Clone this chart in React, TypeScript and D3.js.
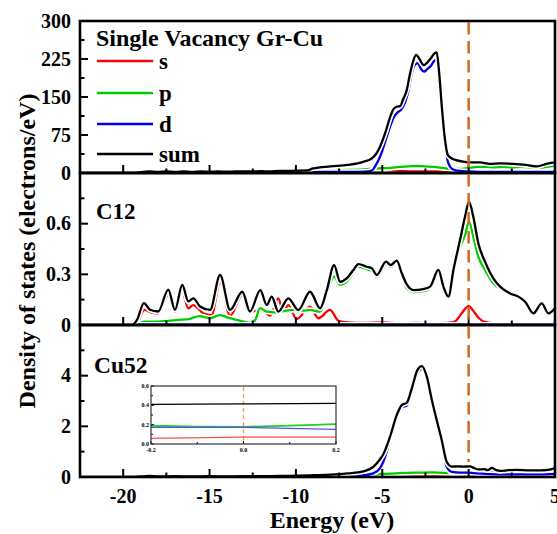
import React from "react";
import * as d3 from "d3";

type Pt = [number, number];

// Energy window (eV)
const energyDomain: [number, number] = [-22.5, 5];
const xMajorTicks = [-20, -15, -10, -5, 0, 5];
const xMinorTicks = [-22.5, -17.5, -12.5, -7.5, -2.5, 2.5];

// Panel 1: Single Vacancy Gr-Cu (total system)
const topTicks = [0, 75, 150, 225, 300];
const topS: Pt[] = [[-22.5,0],[-9.5,0],[-9,1],[-7,2],[-6,3],[-5.5,5],[-5,7],[-4.5,5],[-4,4],[-3,3],[-2,3],[-1,2.5],[0,2],[1,1.5],[2,1.5],[3,1.5],[4,1.5],[5,1.5]];
const topP: Pt[] = [[-22.5,0],[-10,0],[-9.5,1],[-9,3],[-8,5],[-7,6],[-6,7],[-5.3,9],[-4.5,10],[-4,12],[-3.5,13],[-3,14],[-2.5,13],[-2,12],[-1.5,10],[-1,8],[-0.5,8],[0,10],[0.5,12],[1,12],[1.5,11],[2,12],[2.5,11],[3,12],[3.5,11],[4,10],[4.5,12],[5,14]];
const topD: Pt[] = [[-22.5,0],[-19.5,0],[-19,1.5],[-18.5,3],[-18,1.5],[-17.5,3],[-17,1.5],[-16.5,2.5],[-16,1.5],[-15.5,2.5],[-15,2],[-14.5,2.5],[-14,2],[-13.5,2],[-13,2.5],[-12.5,2],[-12,2.5],[-11.5,2],[-11,2.5],[-10,2],[-9,2],[-8,2],[-7,2],[-6,2.5],[-5.6,5],[-5.4,14],[-5.13,32],[-4.8,65],[-4.55,91],[-4.3,112],[-4.1,120],[-3.9,125],[-3.7,138],[-3.5,160],[-3.3,196],[-3.1,214],[-2.95,217],[-2.75,205],[-2.58,200],[-2.4,205],[-2.2,211],[-1.95,222],[-1.85,222],[-1.7,175],[-1.55,115],[-1.45,79],[-1.3,40],[-1.17,19],[-0.9,7],[-0.5,4],[0,3],[1,2],[2,2],[3,2],[4,2],[5,2]];
const topSum: Pt[] = [[-22.5,0],[-19.5,0],[-19,1.5],[-18.5,3],[-18,2],[-17.5,3],[-17,2],[-16.5,3],[-16,2],[-15.5,3],[-15,2.5],[-14.5,3],[-14,2.5],[-13.5,3],[-13,3],[-12.5,3],[-12,3.5],[-11.5,3],[-11,4],[-10.5,4],[-10,4.5],[-9.35,5],[-9,9],[-8,13],[-7,16],[-6.1,22],[-5.6,29],[-5.35,38],[-5.13,52],[-4.8,82],[-4.55,110],[-4.35,126],[-4.15,131],[-3.97,132],[-3.8,145],[-3.58,164],[-3.4,195],[-3.2,222],[-3.04,233],[-2.85,225],[-2.6,213],[-2.4,218],[-2.2,226],[-1.95,237],[-1.85,238],[-1.7,195],[-1.55,130],[-1.4,75],[-1.2,35],[-0.88,27],[-0.4,23],[0,21],[0.66,21],[1.23,18],[1.8,19],[2.57,18],[3.3,16],[3.96,13],[4.5,18],[5,21]];

// Panel 2: C12
const midTicks = [0, 0.3, 0.6];
const midS: Pt[] = [[-22.5,0],[-19.3,0],[-18.77,0.089],[-18.4,0.075],[-17.97,0.069],[-17.39,0.178],[-17.0,0.079],[-16.6,0.207],[-16.23,0.099],[-15.94,0.118],[-15.36,0.069],[-14.88,0.059],[-14.39,0.256],[-13.81,0.055],[-13.1,0.178],[-12.76,0.079],[-12.27,0.085],[-11.95,0.09],[-11.5,0.055],[-11.02,0.158],[-10.73,0.079],[-10.44,0.118],[-9.96,0.035],[-9.18,0.108],[-8.7,0.04],[-8.02,0.089],[-7.54,0.025],[-7,0.015],[-6,0.012],[-5,0.015],[-4,0.01],[-3,0.012],[-2,0.01],[-1.2,0.012],[-0.8,0.02],[-0.4,0.07],[0,0.112],[0.3,0.08],[0.6,0.04],[0.95,0.018],[1.5,0.01],[2.5,0.008],[3.5,0.006],[5,0.005]];
const midP: Pt[] = [[-22.5,0],[-19.2,0],[-18.8,0.02],[-18,0.02],[-17.4,0.025],[-16.8,0.03],[-16.2,0.035],[-15.6,0.053],[-14.97,0.04],[-14.4,0.059],[-13.97,0.045],[-13.2,0.024],[-12.6,0.012],[-12.35,0.03],[-12.08,0.1],[-11.69,0.079],[-11.2,0.075],[-10.9,0.079],[-10.15,0.089],[-9.6,0.085],[-9.18,0.089],[-8.6,0.079],[-8.21,0.187],[-7.79,0.286],[-7.44,0.237],[-7.06,0.256],[-6.67,0.31],[-6.38,0.345],[-5.9,0.33],[-5.61,0.32],[-5.32,0.286],[-4.74,0.361],[-4.51,0.345],[-4.16,0.365],[-3.87,0.29],[-3.58,0.217],[-3.2,0.195],[-2.62,0.2],[-2.23,0.215],[-1.75,0.315],[-1.46,0.215],[-1.17,0.158],[-0.88,0.31],[-0.5,0.46],[-0.21,0.533],[0.02,0.612],[0.27,0.523],[0.56,0.405],[0.95,0.326],[1.43,0.247],[1.82,0.215],[2.4,0.18],[2.88,0.16],[3.27,0.13],[3.75,0.062],[4.23,0.12],[4.62,0.062],[5,0.092]];
const midD: Pt[] = [[-22.5,0],[-19,0.002],[-10,0.002],[0,0.002],[5,0.002]];
const midSum: Pt[] = [[-22.5,0],[-19.5,0],[-19.2,0.03],[-18.8,0.13],[-18.45,0.09],[-17.97,0.08],[-17.39,0.21],[-17.0,0.09],[-16.58,0.237],[-16.23,0.14],[-15.94,0.158],[-15.55,0.11],[-14.97,0.09],[-14.39,0.296],[-13.81,0.09],[-13.1,0.197],[-12.66,0.08],[-12.06,0.207],[-11.69,0.118],[-11.4,0.168],[-11.02,0.079],[-10.44,0.158],[-9.86,0.089],[-9.18,0.197],[-8.6,0.099],[-8.21,0.207],[-7.79,0.355],[-7.44,0.256],[-7.06,0.276],[-6.67,0.326],[-6.38,0.361],[-5.9,0.345],[-5.61,0.336],[-5.32,0.296],[-4.78,0.375],[-4.51,0.355],[-4.16,0.381],[-3.87,0.306],[-3.58,0.24],[-3.2,0.207],[-2.62,0.213],[-2.23,0.227],[-1.75,0.326],[-1.46,0.227],[-1.17,0.168],[-0.88,0.326],[-0.5,0.503],[-0.21,0.641],[0.02,0.73],[0.27,0.641],[0.56,0.484],[0.95,0.375],[1.43,0.276],[1.82,0.227],[2.4,0.187],[2.88,0.168],[3.27,0.138],[3.75,0.069],[4.23,0.128],[4.62,0.069],[5,0.099]];

// Panel 3: Cu52
const botTicks = [0, 2, 4];
const botS: Pt[] = [[-22.5,0],[-9,0],[-8,0.02],[-6,0.04],[-5,0.06],[-4,0.07],[-3,0.06],[-2,0.05],[-1,0.05],[0,0.07],[1,0.06],[2,0.05],[3,0.05],[5,0.05]];
const botP: Pt[] = [[-22.5,0],[-8,0],[-6,0.05],[-5,0.12],[-4,0.15],[-3,0.17],[-2,0.18],[-1,0.15],[0,0.18],[0.5,0.2],[1,0.22],[2,0.2],[3,0.2],[4,0.2],[5,0.28]];
const botD: Pt[] = [[-22.5,0],[-19,0.01],[-18.5,0.02],[-18,0.01],[-10,0.02],[-8,0.03],[-7,0.05],[-6.1,0.07],[-5.52,0.14],[-5.13,0.35],[-4.94,0.6],[-4.55,1.46],[-4.16,2.32],[-3.87,2.75],[-3.58,2.82],[-3.29,3.37],[-2.97,4.09],[-2.71,4.26],[-2.42,3.83],[-2.13,2.93],[-1.85,2.12],[-1.56,1.26],[-1.27,0.41],[-0.98,0.2],[-0.5,0.17],[0,0.17],[0.5,0.14],[1,0.12],[2,0.1],[3,0.1],[4,0.1],[5,0.12]];
const botSum: Pt[] = [[-22.5,0],[-19.5,0],[-19,0.02],[-18.5,0.04],[-18,0.02],[-17,0.03],[-16,0.02],[-15,0.03],[-14,0.02],[-13,0.03],[-12,0.03],[-11,0.04],[-10,0.05],[-9,0.07],[-8,0.09],[-7,0.14],[-6.1,0.22],[-5.52,0.4],[-5.13,0.7],[-4.94,0.9],[-4.55,1.59],[-4.16,2.45],[-3.87,2.84],[-3.58,2.93],[-3.29,3.5],[-2.97,4.22],[-2.71,4.38],[-2.42,3.96],[-2.13,3.04],[-1.85,2.25],[-1.56,1.46],[-1.27,0.6],[-0.98,0.41],[-0.6,0.42],[-0.31,0.41],[0.08,0.42],[0.3,0.36],[0.56,0.3],[0.9,0.31],[1.1,0.27],[1.34,0.36],[1.6,0.27],[1.82,0.24],[2.3,0.27],[2.79,0.28],[3.5,0.26],[4.13,0.26],[4.6,0.28],[5,0.35]];

// Inset: Cu52 near the Fermi level
const insetDomain: [number, number] = [-0.2, 0.2];
const insetXTicks = [-0.2, 0.0, 0.2];
const insetYTicks = [0.0, 0.2, 0.4, 0.6];
const insetS: Pt[] = [[-0.2,0.058],[0,0.072],[0.2,0.072]];
const insetP: Pt[] = [[-0.2,0.189],[-0.1,0.18],[0,0.178],[0.1,0.19],[0.2,0.206]];
const insetD: Pt[] = [[-0.2,0.171],[0,0.171],[0.1,0.162],[0.2,0.151]];
const insetSum: Pt[] = [[-0.2,0.41],[0,0.415],[0.2,0.42]];

const seriesNames = ["s", "p", "d", "sum"];
const seriesColors = ["#ff0000", "#00cc00", "#0000e6", "#000000"];

const FONT = "'Liberation Serif', 'Times New Roman', serif";
const FERMI = "#d2691e";

const X0 = 80;
const X1 = 555;

const x = d3.scaleLinear().domain(energyDomain).range([X0, X1]);

type Panel = {
  key: string;
  top: number;
  bottom: number;
  max: number;
  ticks: number[];
  fmt: (v: number) => string;
  series: Pt[][];
};

const panels: Panel[] = [
  { key: "top", top: 21, bottom: 173, max: 300, ticks: topTicks, fmt: (v) => String(v), series: [topS, topP, topD, topSum] },
  { key: "mid", top: 173, bottom: 325, max: 0.9, ticks: midTicks, fmt: (v) => (v === 0 ? "0" : v.toFixed(1)), series: [midS, midP, midD, midSum] },
  { key: "bot", top: 325, bottom: 477, max: 6, ticks: botTicks, fmt: (v) => String(v), series: [botS, botP, botD, botSum] },
];

function PanelView({ p }: { p: Panel }) {
  const y = d3.scaleLinear().domain([0, p.max]).range([p.bottom, p.top]);
  const line = d3
    .line<Pt>()
    .x((d) => x(d[0]))
    .y((d) => y(d[1]))
    .curve(d3.curveMonotoneX);
  const step = p.ticks[1] - p.ticks[0];
  const minor: number[] = [];
  for (let v = step / 2; v < p.max; v += step) minor.push(v);
  const clipId = `clip-${p.key}`;
  return (
    <g>
      <defs>
        <clipPath id={clipId}>
          <rect x={X0} y={p.top} width={X1 - X0} height={p.bottom - p.top} />
        </clipPath>
      </defs>
      <g clipPath={`url(#${clipId})`}>
        {p.series.map((s, i) => (
          <g key={i}>
            <path d={line(s) || ""} fill="none" stroke="#fff" strokeWidth={5.5} strokeLinejoin="round" />
            <path d={line(s) || ""} fill="none" stroke={seriesColors[i]} strokeWidth={2.3} strokeLinejoin="round" />
          </g>
        ))}
      </g>
      {/* y ticks (inward) */}
      {p.ticks.map((t) => (
        <g key={`yt${t}`}>
          <line x1={X0} x2={X0 + 8} y1={y(t)} y2={y(t)} stroke="#000" strokeWidth={2} />
          <text x={71} y={y(t)} dy="0.34em" textAnchor="end" fontFamily={FONT} fontWeight="bold" fontSize={20}>
            {p.fmt(t)}
          </text>
        </g>
      ))}
      {minor.map((t) => (
        <line key={`ym${t}`} x1={X0} x2={X0 + 4.5} y1={y(t)} y2={y(t)} stroke="#000" strokeWidth={2} />
      ))}
      {/* x ticks (inward, along each panel's bottom) */}
      {xMajorTicks.map((t) => (
        <line key={`xt${t}`} x1={x(t)} x2={x(t)} y1={p.bottom} y2={p.bottom - 8} stroke="#000" strokeWidth={2} />
      ))}
      {xMinorTicks.map((t) => (
        <line key={`xm${t}`} x1={x(t)} x2={x(t)} y1={p.bottom} y2={p.bottom - 4.5} stroke="#000" strokeWidth={2} />
      ))}
      <rect x={X0} y={p.top} width={X1 - X0} height={p.bottom - p.top} fill="none" stroke="#000" strokeWidth={2.6} />
    </g>
  );
}

function Inset() {
  const L = 151, R = 336, T = 386, B = 444;
  const ix = d3.scaleLinear().domain(insetDomain).range([L, R]);
  const iy = d3.scaleLinear().domain([0, 0.6]).range([B, T]);
  const line = d3.line<Pt>().x((d) => ix(d[0])).y((d) => iy(d[1]));
  const data = [insetS, insetP, insetD, insetSum];
  const insetColors = ["#ff5050", "#20d020", "#5050ff", "#000"];
  return (
    <g>
      <rect x={L} y={T} width={R - L} height={B - T} fill="#fff" />
      <line x1={ix(0)} x2={ix(0)} y1={T + 1} y2={B} stroke="#ffa040" strokeWidth={1.4} strokeDasharray="4,3" />
      {data.map((s, i) => (
        <path key={i} d={line(s) || ""} fill="none" stroke={insetColors[i]} strokeWidth={i === 1 ? 1.8 : 1.3} />
      ))}
      {insetYTicks.map((t) => (
        <g key={`iy${t}`}>
          <line x1={L} x2={L + 3} y1={iy(t)} y2={iy(t)} stroke="#000" strokeWidth={1} />
          <text x={L - 2} y={iy(t)} dy="0.35em" textAnchor="end" fontFamily={FONT} fontWeight="bold" fontSize={6}>
            {t.toFixed(1)}
          </text>
        </g>
      ))}
      {[0.1, 0.3, 0.5].map((t) => (
        <line key={`iym${t}`} x1={L} x2={L + 2} y1={iy(t)} y2={iy(t)} stroke="#000" strokeWidth={1} />
      ))}
      {insetXTicks.map((t) => (
        <g key={`ix${t}`}>
          <line x1={ix(t)} x2={ix(t)} y1={B} y2={B - 3} stroke="#000" strokeWidth={1} />
          <text x={ix(t)} y={B + 8} textAnchor="middle" fontFamily={FONT} fontWeight="bold" fontSize={6}>
            {t.toFixed(1)}
          </text>
        </g>
      ))}
      {[-0.1, 0.1].map((t) => (
        <line key={`ixm${t}`} x1={ix(t)} x2={ix(t)} y1={B} y2={B - 2} stroke="#000" strokeWidth={1} />
      ))}
      <rect x={L} y={T} width={R - L} height={B - T} fill="none" stroke="#333" strokeWidth={1.2} />
    </g>
  );
}

export default function App() {
  const legendY = [61, 93, 124, 154];
  return (
    <svg
      width={557}
      height={534}
      viewBox="0 0 557 534"
      style={{ position: "fixed", left: 0, top: 0, background: "#fff" }}
    >
      <rect width={557} height={534} fill="#fff" />
      {panels.map((p) => (
        <PanelView key={p.key} p={p} />
      ))}
      {/* Fermi level */}
      <line x1={x(0)} x2={x(0)} y1={22} y2={462} stroke={FERMI} strokeWidth={2.5} strokeDasharray="12.5,6.5" />
      <Inset />

      {/* panel titles */}
      <text x={96} y={46} fontFamily={FONT} fontWeight="bold" fontSize={24}>Single Vacancy Gr-Cu</text>
      <text x={96} y={219} fontFamily={FONT} fontWeight="bold" fontSize={23}>C12</text>
      <text x={94} y={373} fontFamily={FONT} fontWeight="bold" fontSize={23.5}>Cu52</text>

      {/* legend */}
      {seriesNames.map((n, i) => (
        <g key={n}>
          <line x1={97} x2={153} y1={legendY[i]} y2={legendY[i]} stroke={seriesColors[i]} strokeWidth={2.5} />
          <text x={159} y={legendY[i] + 8} fontFamily={FONT} fontWeight="bold" fontSize={23}>{n}</text>
        </g>
      ))}

      {/* x tick labels */}
      {xMajorTicks.map((t) => (
        <text key={t} x={x(t)} y={503} textAnchor="middle" fontFamily={FONT} fontWeight="bold" fontSize={20}>
          {t}
        </text>
      ))}

      {/* axis titles */}
      <text x={332} y={528} textAnchor="middle" fontFamily={FONT} fontWeight="bold" fontSize={24}>
        Energy (eV)
      </text>
      <text
        transform="translate(35,251) rotate(-90)"
        textAnchor="middle"
        fontFamily={FONT}
        fontWeight="bold"
        fontSize={24}
      >
        Density of states (electrons/eV)
      </text>
    </svg>
  );
}
